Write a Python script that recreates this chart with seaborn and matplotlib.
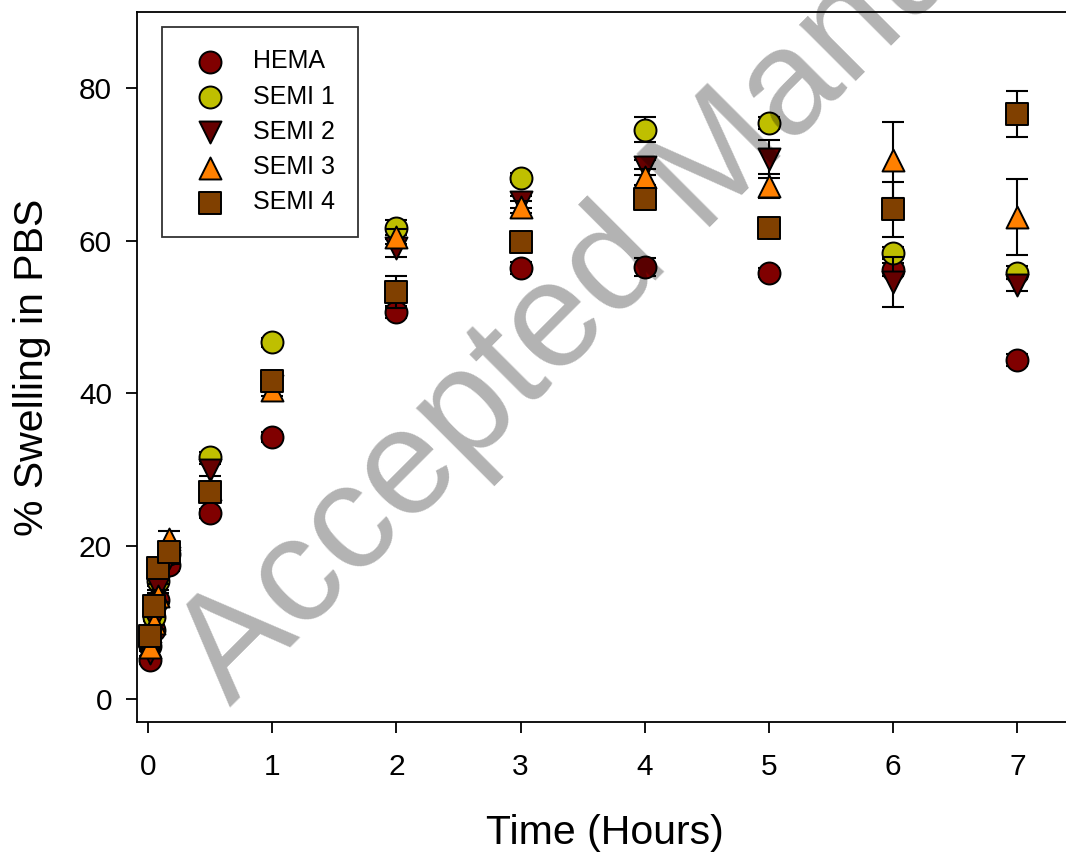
import numpy as np
import pandas as pd
from matplotlib import pyplot as plt
import seaborn as sb

'''
Swelling of HEMA and SEMI hydrogels in PBS over time
'''

# time points (hours)
times = [0.0167, 0.05, 0.083, 0.167, 0.5, 1, 2, 3, 4, 5, 6, 7]

# % swelling, mean values per material
hema = [5.1, 9.0, 13.0, 17.5, 24.3, 34.3, 50.6, 56.4, 56.5, 55.8, 56.2, 44.4]
semi1 = [7.0, 10.8, 15.4, 19.0, 31.7, 46.7, 61.7, 68.2, 74.5, 75.4, 58.4, 55.8]
semi2 = [6.0, 10.3, 14.5, 18.5, 30.0, 41.0, 59.0, 65.0, 69.6, 70.7, 54.6, 54.2]
semi3 = [6.8, 10.0, 13.5, 21.0, 27.5, 40.5, 60.5, 64.4, 68.3, 67.1, 70.5, 63.1]
semi4 = [8.2, 12.2, 17.1, 19.3, 27.1, 41.6, 53.3, 59.8, 65.4, 61.6, 64.1, 76.6]

# standard deviations
hema_err = [0.5, 0.5, 0.5, 0.8, 0.6, 0.6, 0.8, 0.8, 1.2, 0.6, 0.8, 0.8]
semi1_err = [0.5, 0.6, 0.6, 0.8, 0.6, 0.6, 1.0, 0.6, 1.6, 0.8, 0.8, 0.8]
semi2_err = [0.5, 0.6, 0.6, 0.8, 0.8, 0.8, 1.2, 0.8, 1.0, 2.5, 3.3, 0.8]
semi3_err = [0.5, 0.8, 0.8, 1.0, 0.8, 0.8, 1.0, 0.8, 1.0, 1.6, 5.0, 5.0]
semi4_err = [0.5, 0.8, 0.6, 0.8, 0.8, 0.8, 2.1, 0.6, 0.8, 0.6, 3.6, 3.0]

names = ['HEMA', 'SEMI 1', 'SEMI 2', 'SEMI 3', 'SEMI 4']
values = [hema, semi1, semi2, semi3, semi4]
errors = [hema_err, semi1_err, semi2_err, semi3_err, semi4_err]
markers = ['o', 'o', 'v', '^', 's']
colors = ['#800000', '#bfbf00', '#660000', '#ff8000', '#804000']


def swelling_plot():
    sb.set_style('ticks')
    plt.rcParams['font.family'] = ['Liberation Sans', 'DejaVu Sans']
    for key in ['text.color', 'axes.labelcolor', 'xtick.color', 'ytick.color']:
        plt.rcParams[key] = 'black'

    fig = plt.figure(figsize=(10.66, 8.57), dpi=100)
    ax = fig.add_axes([137 / 1066, 135 / 857, 935 / 1066, 710 / 857])

    for i, name in enumerate(names):
        df = pd.DataFrame({'Time': times, 'Swelling': values[i], 'err': errors[i]})
        ax.errorbar(df['Time'], df['Swelling'], yerr=df['err'], fmt='none',
                    ecolor='black', elinewidth=1.5, capsize=8, capthick=1.5,
                    zorder=2 + 2 * i)
        sb.scatterplot(data=df, x='Time', y='Swelling', ax=ax, marker=markers[i],
                       color=colors[i], s=250, edgecolor='black', linewidth=1.4,
                       label=name, zorder=3 + 2 * i)

    ax.set_xlim(-0.089, 7.44)
    ax.set_ylim(-3.0, 89.9)
    ax.set_xticks(range(0, 8))
    ax.set_yticks([0, 20, 40, 60, 80])
    ax.tick_params(direction='out', length=8, width=1.3, labelsize=21.5, pad=10,
                   top=False, right=False)
    ax.tick_params(axis='x', pad=14)
    for sp in ax.spines.values():
        sp.set_linewidth(1.3)
        sp.set_color('black')

    ax.set_xlabel('Time (Hours)', fontsize=29.5, labelpad=24)
    ax.set_ylabel('% Swelling in PBS', fontsize=29.5, labelpad=20)

    leg = ax.legend(loc='upper left', bbox_to_anchor=(0.027, 0.979), borderaxespad=0,
                    fontsize=18, frameon=True, fancybox=False, edgecolor='black',
                    borderpad=0.9, labelspacing=0.45, handlelength=2.0,
                    handletextpad=0.75, markerscale=1.0)
    leg.get_frame().set_linewidth(1.3)
    leg.set_zorder(20)

    # watermark of the source document
    fig.text(0.216, 0.175, 'Accepted Manuscript', rotation=45, rotation_mode='anchor',
             fontsize=108, color='black', alpha=0.3, ha='left', va='baseline', zorder=30)

    fig.savefig('out.png', dpi=100)
    return fig, ax


if __name__ == "__main__":
    swelling_plot()
